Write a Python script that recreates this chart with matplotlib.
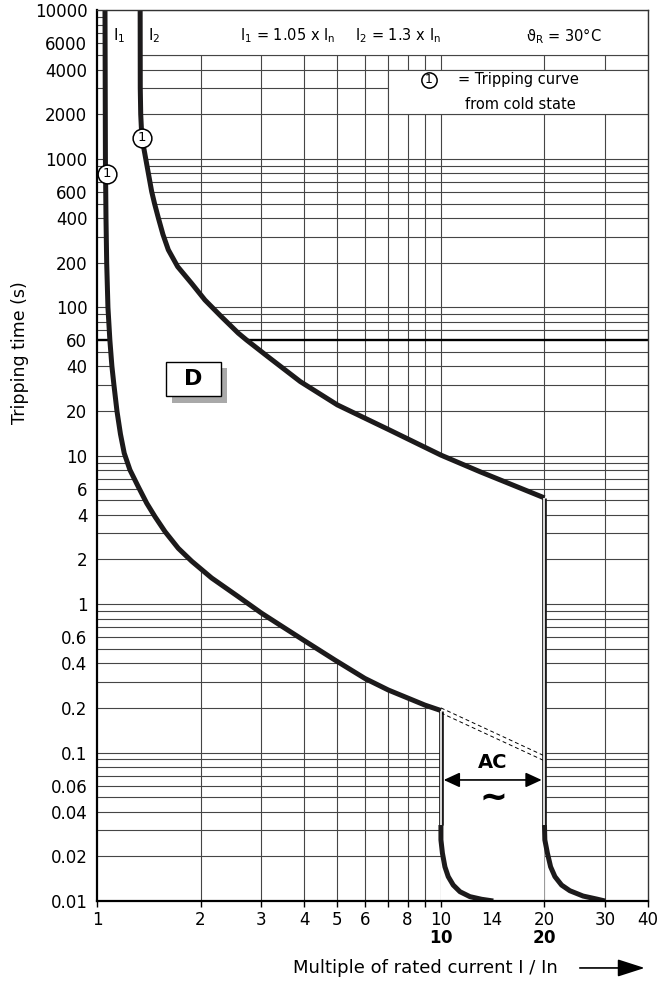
import matplotlib.pyplot as plt
from matplotlib.patches import Rectangle, Polygon, FancyArrowPatch
from matplotlib.ticker import NullFormatter

# tripping curve I1 (lower limit)
i1_x = [1.055, 1.058, 1.062, 1.067, 1.076, 1.09, 1.105, 1.12, 1.143, 1.17, 1.20,
        1.247, 1.318, 1.395, 1.474, 1.577, 1.723, 1.884, 2.155, 2.575, 3.01, 3.52, 4.02,
        4.92, 6.01, 7.03, 8.98, 10.0]
i1_y = [10000, 1000, 400, 200, 100, 60, 40, 30, 20, 14, 10.4,
        8.02, 6.19, 4.79, 3.89, 3.08, 2.38, 1.95, 1.5, 1.124, 0.869, 0.688, 0.565,
        0.42, 0.316, 0.264, 0.209, 0.192]

# tripping curve I2 (upper limit)
i2_x = [1.335, 1.336, 1.34, 1.35, 1.386, 1.442, 1.47, 1.508, 1.555, 1.612, 1.716, 1.884,
        2.06, 2.30, 2.575, 2.72, 3.14, 3.9, 5.0, 7.05, 10.0, 13.0, 20.0]
i2_y = [10000, 3000, 2000, 1400, 1000, 603, 500, 400, 310, 244, 188, 145,
        112, 86.5, 67, 60.3, 46.5, 31.6, 22.0, 15.0, 10.1, 7.8, 5.2]

# magnetic tripping tails
tail10_x = [10.0, 10.0, 10.1, 10.27, 10.5, 10.86, 11.36, 12.14, 13.13, 14.2]
tail10_y = [0.0325, 0.0258, 0.021, 0.017, 0.0146, 0.0128, 0.01155, 0.0107, 0.01027, 0.01]
tail20_x = [20.0, 20.05, 20.4, 20.84, 21.45, 22.43, 23.7, 25.9, 28.4, 30.0]
tail20_y = [0.0325, 0.0258, 0.021, 0.017, 0.0146, 0.0128, 0.01173, 0.0108, 0.0103, 0.01]

# dashed lines between 10 and 20
dash_x = [10, 20]
dash_a = [0.2, 0.095]
dash_b = [0.185, 0.088]
ac_y = 0.0654

# "1" markers (cold state)
mark_x = [1.07, 1.35]
mark_y = [790, 1380]

xtick_vals = [1, 2, 3, 4, 5, 6, 8, 10, 14, 20, 30, 40]
xtick_labels = ['1', '2', '3', '4', '5', '6', '8', '10\n$\\mathbf{10}$', '14',
                '20\n$\\mathbf{20}$', '30', '40']
xtick_minor = [7, 9]
ytick_vals = [0.01, 0.02, 0.04, 0.06, 0.1, 0.2, 0.4, 0.6, 1, 2, 4, 6, 10, 20, 40, 60,
              100, 200, 400, 600, 1000, 2000, 4000, 6000, 10000]
ytick_labels = ['0.01', '0.02', '0.04', '0.06', '0.1', '0.2', '0.4', '0.6', '1', '2', '4', '6',
                '10', '20', '40', '60', '100', '200', '400', '600', '1000', '2000', '4000',
                '6000', '10000']
ytick_marks = [0.01, 0.1, 1, 10, 60, 100, 1000, 10000]

x_grid = [2, 3, 4, 5, 6, 7, 8, 9, 10, 20, 30]
y_grid = []
for e in [0.01, 0.1, 1, 10, 100, 1000]:
    for k in range(1, 10):
        y_grid.append(round(k * e, 4))
y_grid = y_grid[1:]

fig = plt.figure(figsize=(6.62, 9.83), dpi=100)
ax = fig.add_axes([97 / 662, 82 / 983, 551 / 662, 890.5 / 983])
ax.set_xscale('log')
ax.set_yscale('log')
ax.set_xlim(1, 40)
ax.set_ylim(0.01, 10000)

gc = '#454545'
for gx in x_grid:
    ax.axvline(gx, color=gc, lw=0.8, zorder=1)
for gy in y_grid:
    if gy == 60:
        ax.axhline(gy, color='black', lw=1.7, zorder=1)
    else:
        ax.axhline(gy, color=gc, lw=0.8, zorder=1)

# blank header strip and legend cell
ax.add_patch(Rectangle((1.25, 5000), 40 - 1.25, 5000, fc='white', ec=gc, lw=0.8, zorder=1.5))
ax.add_patch(Rectangle((7, 2000), 33, 2000, fc='white', ec=gc, lw=0.8, zorder=1.5))

# white band between the curves
band = list(zip(i1_x, i1_y)) + [(10, 0.01), (20, 0.01)] + list(zip(i2_x, i2_y))[::-1]
ax.add_patch(Polygon(band, closed=True, fc='white', ec='none', zorder=1.7))

cc = '#1c1a1b'
lw_c = 3.6
for cx, cy in [(i1_x, i1_y), (i2_x, i2_y), (tail10_x, tail10_y), (tail20_x, tail20_y)]:
    ax.plot(cx, cy, color=cc, lw=lw_c, zorder=3, solid_capstyle='butt', solid_joinstyle='round')

# hollow vertical lines
for vx, top in [(10, i1_y[-1]), (20, i2_y[-1])]:
    ax.plot([vx, vx], [top, tail10_y[0]], color=cc, lw=3.4, zorder=3, solid_capstyle='butt')
    ax.plot([vx, vx], [top, tail10_y[0]], color='white', lw=1.2, zorder=3.1, solid_capstyle='butt')

ax.plot(dash_x, dash_a, color='black', lw=0.7, ls=(0, (4, 3)), zorder=3)
ax.plot(dash_x, dash_b, color='black', lw=0.7, ls=(0, (4, 3)), zorder=3)

ax.annotate('', xy=(10, ac_y), xytext=(20, ac_y),
            arrowprops=dict(arrowstyle='<|-|>,head_length=0.65,head_width=0.3', mutation_scale=15,
                            lw=1.2, color='black', shrinkA=2, shrinkB=2), zorder=5)
ax.text(0.7187, 0.156, 'AC', transform=ax.transAxes, ha='center', va='center',
        fontsize=14, fontweight='bold', zorder=5)
ax.text(0.7187, 0.1157, '~', transform=ax.transAxes, ha='center', va='center',
        fontsize=24, fontweight='bold', zorder=5)

# cold state markers
ax.plot(mark_x, mark_y, 'o', ms=13.5, mfc='white', mec='black', mew=1.1, zorder=4)
for mx, my in zip(mark_x, mark_y):
    ax.text(mx, my * 1.01, '1', ha='center', va='center', fontsize=9.5, zorder=5)

# legend
ax.plot(0.6025, 0.922, 'o', transform=ax.transAxes, ms=11, mfc='white', mec='black', mew=1.1, zorder=4)
ax.text(0.6025, 0.9225, '1', transform=ax.transAxes, ha='center', va='center', fontsize=9, zorder=5)
ax.text(0.655, 0.922, '= Tripping curve', transform=ax.transAxes, ha='left', va='center',
        fontsize=10.5, zorder=5)
ax.text(0.668, 0.895, 'from cold state', transform=ax.transAxes, ha='left', va='center',
        fontsize=10.5, zorder=5)

# header
hy = 0.9713
ax.text(0.040, hy, r'I$_\mathregular{1}$', transform=ax.transAxes, ha='center', va='center', fontsize=11, zorder=5)
ax.text(0.103, hy, r'I$_\mathregular{2}$', transform=ax.transAxes, ha='center', va='center', fontsize=11, zorder=5)
ax.text(0.347, hy, r'I$_\mathregular{1}$ = 1.05 x I$_\mathregular{n}$', transform=ax.transAxes,
        ha='center', va='center', fontsize=10.5, zorder=5)
ax.text(0.546, hy, r'I$_\mathregular{2}$ = 1.3 x I$_\mathregular{n}$', transform=ax.transAxes,
        ha='center', va='center', fontsize=10.5, zorder=5)
ax.text(0.848, hy, r'ϑ$_\mathregular{R}$ = 30°C', transform=ax.transAxes,
        ha='center', va='center', fontsize=10.5, zorder=5)

# "D" box with shadow
bx, by, bw, bh = 0.1247, 0.5671, 0.0998, 0.0385
ax.add_patch(Rectangle((bx + 6.7 / 551, by - 6.7 / 890.5), bw, bh, transform=ax.transAxes,
                       fc='#a9a9a9', ec='none', zorder=4))
ax.add_patch(Rectangle((bx, by), bw, bh, transform=ax.transAxes, fc='white', ec='black', lw=1.0, zorder=4.5))
ax.text(bx + bw / 2, by + bh / 2, 'D', transform=ax.transAxes, ha='center', va='center',
        fontsize=16, fontweight='bold', zorder=5)

# axes and ticks
for s in ['left', 'bottom']:
    ax.spines[s].set_linewidth(1.6)
for s in ['top', 'right']:
    ax.spines[s].set_linewidth(1.0)
    ax.spines[s].set_color('#333333')
for s in ax.spines.values():
    s.set_zorder(6)

ax.set_yticks(ytick_vals)
ax.set_yticklabels(ytick_labels)
ax.set_yticks(ytick_marks, minor=True)
ax.yaxis.set_minor_formatter(NullFormatter())
ax.tick_params(axis='y', which='major', length=0, pad=7, labelsize=12)
ax.tick_params(axis='y', which='minor', length=5, width=1.2)

ax.set_xticks(xtick_vals)
ax.set_xticklabels(xtick_labels, linespacing=1.05)
ax.set_xticks(xtick_minor, minor=True)
ax.xaxis.set_minor_formatter(NullFormatter())
ax.tick_params(axis='x', which='both', length=4, width=1.0, pad=3, labelsize=12)
ax.xaxis.get_major_ticks()[xtick_vals.index(14)].tick1line.set_visible(False)

fig.text(20 / 662, 0.6414, 'Tripping time (s)', rotation=90, ha='center', va='center', fontsize=12.5)
fig.text(0.642, 0.0153, 'Multiple of rated current I / In', ha='center', va='center', fontsize=13)
fig.patches.append(FancyArrowPatch(
    (0.8716, 0.0153), (0.978, 0.0153), transform=fig.transFigure,
    arrowstyle='-|>,head_length=1.4,head_width=0.45', mutation_scale=12, lw=1.2, color='black'))

fig.savefig('out.png', dpi=100)
